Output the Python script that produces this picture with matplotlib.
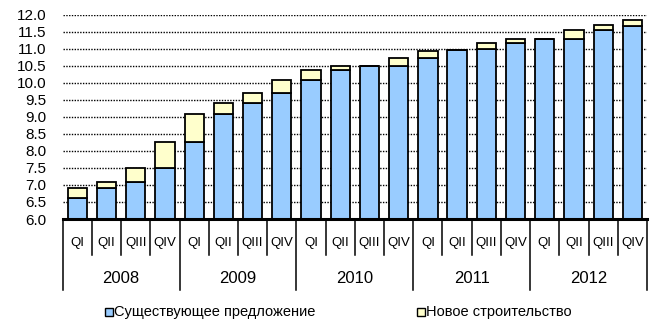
import matplotlib.pyplot as plt
from matplotlib.patches import Rectangle

years = ["2008", "2009", "2010", "2011", "2012"]
quarters = ["QI", "QII", "QIII", "QIV"]
existing = [6.63, 6.92, 7.08, 7.49, 8.27, 9.08, 9.42, 9.70, 10.09, 10.38,
            10.48, 10.48, 10.72, 10.97, 10.99, 11.17, 11.28, 11.28, 11.56, 11.66]
new_build = [0.29, 0.16, 0.41, 0.78, 0.81, 0.34, 0.28, 0.39, 0.28, 0.10,
             0.0, 0.24, 0.22, 0.0, 0.18, 0.11, 0.0, 0.28, 0.13, 0.17]
yticks = [6.0 + 0.5 * i for i in range(13)]
series_names = ["Существующее предложение", "Новое строительство"]
colors = ["#99ccff", "#ffffcc"]

plt.rcParams["font.family"] = ["Liberation Sans", "DejaVu Sans"]

W, H = 656, 322
fig = plt.figure(figsize=(W / 100, H / 100), dpi=100)
ax = fig.add_axes([62.7 / W, 1 - 219 / H, (647 - 62.7) / W, (219 - 14.7) / H])

n = len(existing)
x = list(range(n))
ax.bar(x, existing, width=0.66, color=colors[0], edgecolor="black", linewidth=1.3, zorder=3)
ax.bar(x, new_build, bottom=existing, width=0.66, color=colors[1], edgecolor="black",
       linewidth=1.3, zorder=3)

ax.set_xlim(-0.5, n - 0.5)
ax.set_ylim(6.0, 12.0)
ax.set_yticks(yticks)
ax.set_yticklabels([f"{v:.1f}" for v in yticks], fontsize=11)
ax.tick_params(axis="y", length=0, pad=11.5)
ax.set_xticks([])
for s in ["left", "right", "top"]:
    ax.spines[s].set_visible(False)
ax.spines["bottom"].set_linewidth(2.2)
ax.spines["bottom"].set_zorder(4)

for v in yticks[1:]:
    ax.axhline(v, color="black", linestyle=(0, (1, 1)), linewidth=1.0, zorder=1)

# two-level category axis under the bars
tr = ax.get_xaxis_transform()
for i in range(n + 1):
    bottom = -0.3475 if i % 4 == 0 else -0.176
    ax.plot([i - 0.5, i - 0.5], [0, bottom], color="black", linewidth=1.1,
            transform=tr, clip_on=False)
for i in range(n):
    ax.text(i, -0.117, quarters[i % 4], transform=tr, ha="center", va="center",
            fontsize=9.5)
for k, yr in enumerate(years):
    ax.text(4 * k + 1.5, -0.29, yr, transform=tr, ha="center", va="center",
            fontsize=12)

# legend row
legend_x = [105, 417]
for px, name, c in zip(legend_x, series_names, colors):
    fig.patches.append(Rectangle((px / W, 1 - 316 / H), 8 / W, 8 / H, facecolor=c,
                                 edgecolor="black", linewidth=1.0,
                                 transform=fig.transFigure, figure=fig))
    fig.text((px + 9) / W, 1 - 312 / H, name, ha="left", va="center", fontsize=10.5)

fig.savefig("out.png", dpi=100)
